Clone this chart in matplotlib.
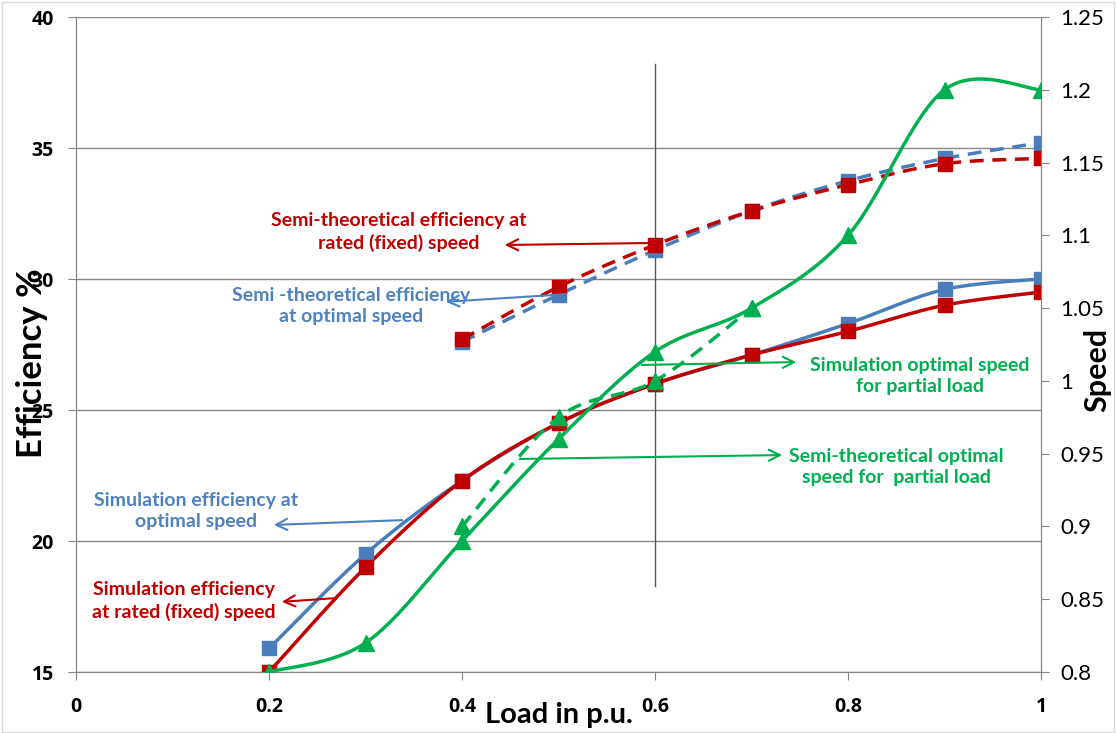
import numpy as np
import matplotlib.pyplot as plt
from matplotlib.patches import Rectangle

plt.rcParams['font.family'] = ['Lato', 'DejaVu Sans']

# load in p.u.
load = [0.2, 0.3, 0.4, 0.5, 0.6, 0.7, 0.8, 0.9, 1.0]
load_semi = [0.4, 0.5, 0.6, 0.7, 0.8, 0.9, 1.0]
load_semi_speed = [0.4, 0.5, 0.6, 0.7]

# efficiency (%)
sim_eff_opt = [15.9, 19.5, 22.3, 24.5, 26.0, 27.1, 28.3, 29.6, 30.0]
sim_eff_rated = [15.0, 19.0, 22.3, 24.5, 26.0, 27.1, 28.0, 29.0, 29.5]
semi_eff_opt = [27.6, 29.4, 31.1, 32.6, 33.75, 34.6, 35.2]
semi_eff_rated = [27.7, 29.7, 31.3, 32.6, 33.6, 34.4, 34.6]

# speed (p.u.)
sim_speed = [0.80, 0.82, 0.89, 0.96, 1.02, 1.05, 1.10, 1.20, 1.20]
semi_speed = [0.90, 0.975, 1.00, 1.05]

BLUE = '#4a7ebb'
RED = '#c00000'
GREEN = '#00b050'
TXT_BLUE = '#4f81bd'


def smooth(xs, ys, n=30):
    # excel-style smoothed line (catmull-rom bezier)
    p = np.column_stack([xs, ys]).astype(float)
    ext = np.vstack([p[0], p, p[-1]])
    out = []
    t = np.linspace(0, 1, n)[:, None]
    for i in range(1, len(ext) - 2):
        p0, p1, p2, p3 = ext[i - 1], ext[i], ext[i + 1], ext[i + 2]
        c1 = p1 + (p2 - p0) / 6
        c2 = p2 - (p3 - p1) / 6
        seg = ((1 - t) ** 3) * p1 + 3 * ((1 - t) ** 2) * t * c1 + 3 * (1 - t) * t ** 2 * c2 + t ** 3 * p2
        out.append(seg)
    c = np.vstack(out)
    return c[:, 0], c[:, 1]


fig = plt.figure(figsize=(11.16, 7.33), dpi=100)
ax = fig.add_axes([0.0681, 0.0832, 0.8647, 0.8936])
ax2 = ax.twinx()

ax.set_xlim(0, 1)
ax.set_ylim(15, 40)
ax2.set_ylim(0.8, 1.25)

ax.grid(axis='y', color='#868686', linewidth=1)
ax.set_axisbelow(True)
for a in (ax, ax2):
    for s in a.spines.values():
        s.set_color('#868686')
    a.spines['top'].set_visible(False)
ax.tick_params(axis='x', direction='out', color='#868686', length=6, pad=12)
ax.tick_params(axis='y', direction='out', color='#868686', length=6, pad=10)
ax2.tick_params(axis='y', direction='out', color='#868686', length=6, pad=8)

ax.set_xticks([0, 0.2, 0.4, 0.6, 0.8, 1])
ax.set_xticklabels(['0', '0.2', '0.4', '0.6', '0.8', '1'], fontsize=14, fontweight='bold',
                   family=['Open Sans', 'DejaVu Sans'])
ax.set_yticks([15, 20, 25, 30, 35, 40])
ax.set_yticklabels(['15', '20', '25', '30', '35', '40'], fontsize=14, fontweight='bold',
                   family=['Open Sans', 'DejaVu Sans'])
ax2.set_yticks([0.8, 0.85, 0.9, 0.95, 1, 1.05, 1.1, 1.15, 1.2, 1.25])
ax2.set_yticklabels(['0.8', '0.85', '0.9', '0.95', '1', '1.05', '1.1', '1.15', '1.2', '1.25'], fontsize=16)

# vertical reference line at 0.6 p.u.
ax.plot([0.6, 0.6], [18.3, 38.2], color='#595959', linewidth=1, zorder=2)

# efficiency curves
for xs, ys, col, ls in [(load_semi, semi_eff_opt, BLUE, '--'),
                        (load_semi, semi_eff_rated, RED, '--'),
                        (load, sim_eff_opt, BLUE, '-'),
                        (load, sim_eff_rated, RED, '-')]:
    sx, sy = smooth(xs, ys)
    ax.plot(sx, sy, color=col, linestyle=ls, linewidth=2.5, dashes=(4, 2.5) if ls == '--' else (None, None), zorder=3)
    ax.plot(xs, ys, linestyle='none', marker='s', markersize=10, color=col, zorder=4)

# speed curves
sx, sy = smooth(load_semi_speed, semi_speed)
ax2.plot(sx, sy, color=GREEN, linewidth=2.5, dashes=(4, 2.5), zorder=3)
ax2.plot(load_semi_speed, semi_speed, linestyle='none', marker='^', markersize=11, color=GREEN, zorder=4)
sx, sy = smooth(load, sim_speed)
ax2.plot(sx, sy, color=GREEN, linewidth=2.5, zorder=3)
ax2.plot(load, sim_speed, linestyle='none', marker='^', markersize=11, color=GREEN, zorder=4)


def px(x, y):
    return (x - 77) / 965, 40 - (y - 17) / 26.2


notes = [
    ('Semi-theoretical efficiency at\nrated (fixed) speed', RED, (400, 232), (652, 243), (503, 245)),
    ('Semi -theoretical efficiency\nat optimal speed', TXT_BLUE, (352, 306), (570, 294), (444, 302)),
    ('Simulation optimal speed\nfor partial load', GREEN, (921, 376), (640, 365), (800, 362)),
    ('Semi-theoretical optimal\nspeed for  partial load', GREEN, (897, 467), (518, 459), (786, 455)),
    ('Simulation efficiency at\noptimal speed', TXT_BLUE, (197, 511), (406, 520), (272, 525)),
    ('Simulation efficiency\nat rated (fixed) speed', RED, (185, 601), (338, 598), (280, 602)),
]
for txt, col, tpos, tail, head in notes:
    ax.text(*px(*tpos), txt, color=col, fontsize=14, fontweight='bold', ha='center', va='center',
            linespacing=1.3, zorder=6)
    ax.annotate('', xy=px(*head), xytext=px(*tail),
                arrowprops=dict(arrowstyle='->', color=col, lw=1.5, mutation_scale=20), zorder=6)

fig.text(32 / 1116, 1 - 363 / 733, 'Efficiency %', rotation=90, fontsize=25, fontweight='bold',
         ha='center', va='center')
fig.text(559 / 1116, 1 - 715 / 733, 'Load in p.u.', fontsize=21, fontweight='bold',
         ha='center', va='center')
fig.text(1097 / 1116, 1 - 370 / 733, 'Speed', rotation=90, fontsize=22, fontweight='bold',
         ha='center', va='center')

fig.patches.append(Rectangle((0.002, 0.002), 0.996, 0.995, transform=fig.transFigure,
                             fill=False, edgecolor='#d9d9d9', linewidth=1))

fig.savefig('out.png', dpi=100)
